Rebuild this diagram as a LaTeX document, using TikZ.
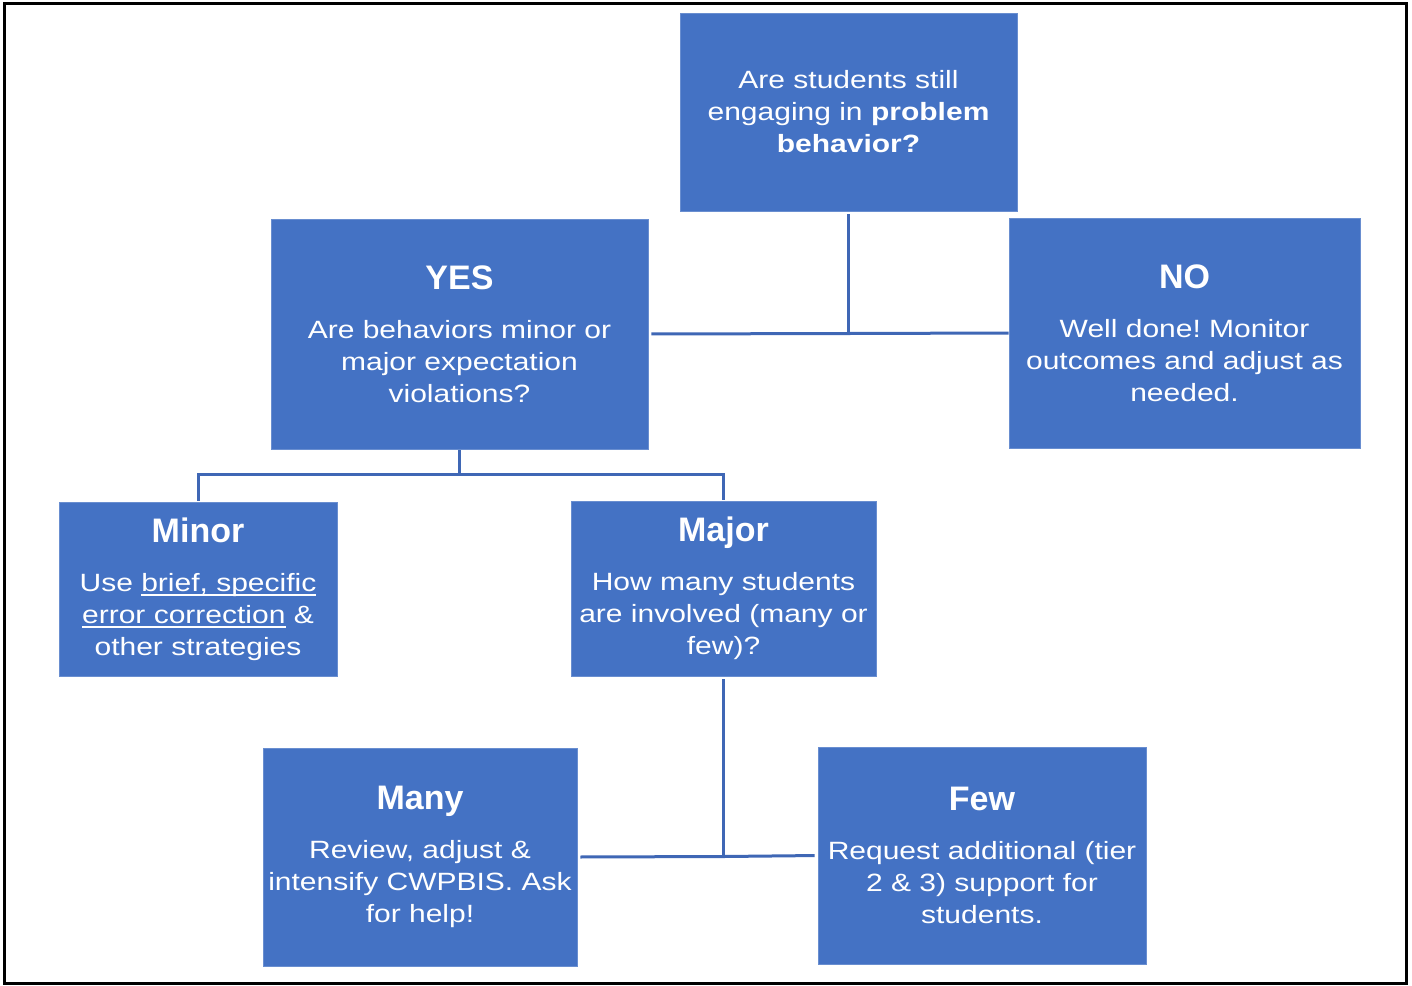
\documentclass[tikz,border=0pt]{standalone}
\usepackage{fontspec}
\setmainfont[FakeStretch=1.2]{Liberation Sans}
\newfontfamily\titlefamily{Liberation Sans}
\definecolor{boxblue}{HTML}{4472C4}
\definecolor{lineblue}{HTML}{3F67B5}
\frenchspacing
\tikzset{
  fbox/.style={fill=boxblue, draw=boxblue!80!white, line width=0.8pt, inner sep=0pt, align=center, text=white,
    font=\fontsize{25}{32}\selectfont\frenchspacing},
  conn/.style={draw=lineblue, line width=3pt},
}
\newcommand{\boxtitle}[1]{{\titlefamily\bfseries\fontsize{34}{32}\selectfont #1}\\[17pt]}
\newcommand{\myul}[1]{\setbox0\hbox{#1}\rlap{\rule[-4.5pt]{\wd0}{1.4pt}}\box0\relax}
\begin{document}
\begin{tikzpicture}[x=1pt,y=-1pt]
\useasboundingbox (0,0) rectangle (1412,985);
\draw[line width=3pt] (4.5,3) rectangle (1406.5,983);

\node[fbox, minimum width=337pt, minimum height=198pt] (q) at (848.5,112) {Are students still\\ engaging in \textbf{problem}\\ \textbf{behavior?}};
\node[fbox, minimum width=377pt, minimum height=230pt] (yes) at (459.5,334) {\boxtitle{YES}Are behaviors minor or\\ major expectation\\ violations?};
\node[fbox, minimum width=351pt, minimum height=230pt] (no) at (1184.5,333) {\boxtitle{NO}Well done! Monitor\\ outcomes and adjust as\\ needed.};
\node[fbox, minimum width=278pt, minimum height=174pt] (minor) at (198,589) {\boxtitle{Minor}Use \myul{brief, specific}\\ \myul{error correction} \&\\ other strategies};
\node[fbox, minimum width=305pt, minimum height=175pt] (major) at (723.5,588.5) {\boxtitle{Major}How many students\\ are involved (many or\\ few)?};
\node[fbox, minimum width=314pt, minimum height=218pt] (many) at (420,857) {\boxtitle{Many}Review, adjust \&\\ intensify CWPBIS. Ask\\ for help!};
\node[fbox, minimum width=328pt, minimum height=217pt] (few) at (982,855.5) {\boxtitle{Few}Request additional (tier\\ 2 \& 3) support for\\ students.};

\coordinate (j1) at (q.south |- 0,333.5);
\coordinate (j2) at (yes.south |- 0,474);
\coordinate (j3) at (major.south |- 0,856.5);

\draw[conn, shorten <=3pt] (q.south) -- (j1);
\draw[conn, shorten <=3pt] (yes.east) -- (j1) -- (no.west);
\draw[conn, shorten <=1pt] (yes.south) -- (j2);
\draw[conn, shorten >=1pt] (j2) -| (minor.north);
\draw[conn, shorten >=1pt] (j2) -| (major.north);
\draw[conn, shorten <=3pt] (major.south) -- (j3);
\draw[conn, shorten <=3pt, shorten >=3pt] (many.east) -- (j3) -- (few.west);
\end{tikzpicture}
\end{document}
